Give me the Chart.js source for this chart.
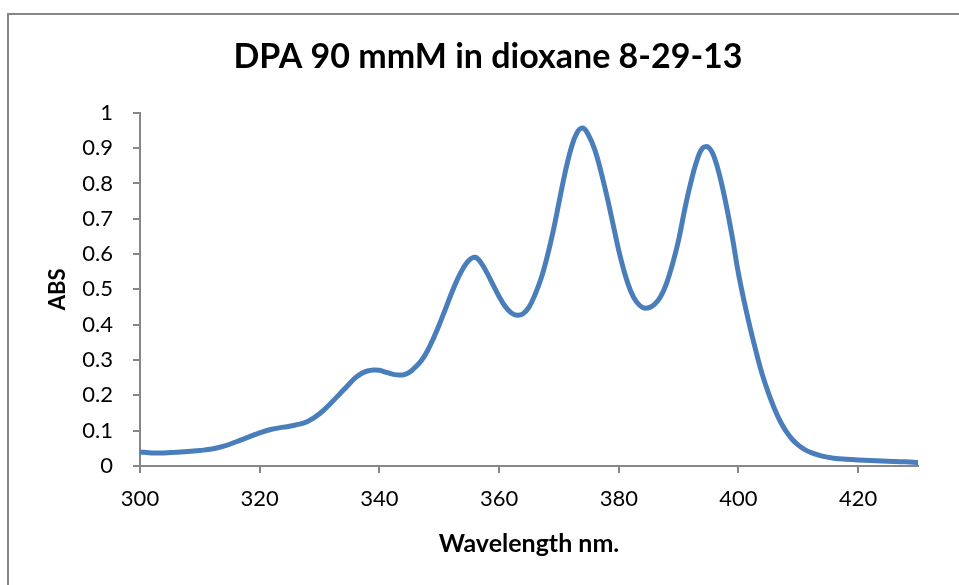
<!DOCTYPE html>
<html>
<head>
<meta charset="utf-8">
<script src="https://cdn.jsdelivr.net/npm/chart.js@4.4.1/dist/chart.umd.min.js"></script>
<style>
  html, body { margin: 0; padding: 0; background: #ffffff; }
  #wrap { position: relative; width: 959px; height: 585px; overflow: hidden; }
  #c { position: absolute; left: 0; top: 0; }
  #frame { position: absolute; left: 7px; top: 13px; width: 960px; height: 600px;
           border-top: 2px solid #868686; border-left: 2px solid #868686; pointer-events: none; }
</style>
</head>
<body>
<div id="wrap">
  <canvas id="c" width="959" height="585"></canvas>
  <div id="frame"></div>
</div>
<script>
// ---- data ----
const chartTitle = "DPA 90 mmM in dioxane 8-29-13";
const xAxisTitle = "Wavelength nm.";
const yAxisTitle = "ABS";
const wavelengths = [300, 302, 304, 306, 308, 310, 312, 314, 316, 318, 320, 322, 324, 326, 328, 330,
  332, 334, 336, 337, 338, 339, 340, 341, 342, 343, 344, 345, 346, 347, 348, 349, 350, 351, 352, 353,
  354, 355, 356, 357, 358, 359, 360, 361, 362, 363, 364, 365, 366, 367, 368, 369, 370, 371, 372, 373,
  374, 375, 376, 377, 378, 379, 380, 381, 382, 383, 384, 385, 386, 387, 388, 389, 390, 391, 392, 393,
  394, 395, 396, 397, 398, 399, 400, 401, 402, 403, 404, 405, 406, 407, 408, 409, 410, 411, 412, 414,
  416, 418, 420, 424, 428, 430];
const absorbance = [0.040, 0.037, 0.037, 0.039, 0.041, 0.044, 0.048, 0.056, 0.068, 0.081, 0.094,
  0.104, 0.110, 0.116, 0.126, 0.148, 0.180, 0.215, 0.250, 0.262, 0.269, 0.272, 0.271, 0.266, 0.261,
  0.258, 0.258, 0.265, 0.280, 0.298, 0.325, 0.360, 0.400, 0.443, 0.487, 0.527, 0.560, 0.583, 0.591,
  0.575, 0.546, 0.513, 0.480, 0.452, 0.434, 0.427, 0.431, 0.450, 0.485, 0.530, 0.590, 0.662, 0.745,
  0.828, 0.897, 0.943, 0.957, 0.935, 0.895, 0.835, 0.765, 0.688, 0.610, 0.545, 0.495, 0.464, 0.449,
  0.448, 0.458, 0.480, 0.518, 0.573, 0.640, 0.725, 0.800, 0.862, 0.900, 0.902, 0.872, 0.812, 0.735,
  0.645, 0.545, 0.462, 0.388, 0.320, 0.258, 0.207, 0.163, 0.126, 0.097, 0.075, 0.059, 0.047, 0.039,
  0.028, 0.022, 0.019, 0.017, 0.014, 0.012, 0.010];
const xMin = 300, xMax = 430, xStep = 20;
const yMin = 0, yMax = 1, yStep = 0.1;

const points = wavelengths.map((w, i) => ({ x: w, y: absorbance[i] }));
const axisGray = '#868686';
const fontFamily = 'Lato, "Open Sans", sans-serif';

// shift the title block so that it is centred where the reference centres it
const titleShift = {
  id: 'titleShift',
  afterLayout(chart) {
    const t = chart.titleBlock;
    if (t) { t.left = 58; t.right = 918; }
  }
};

new Chart(document.getElementById('c'), {
  type: 'line',
  data: {
    datasets: [{
      data: points,
      borderColor: '#4A7EBB',
      borderWidth: 5,
      pointRadius: 0,
      fill: false,
      tension: 0.4,
      borderCapStyle: 'round',
      borderJoinStyle: 'round'
    }]
  },
  plugins: [titleShift],
  options: {
    responsive: false,
    animation: false,
    devicePixelRatio: 1,
    layout: { padding: { left: 8, right: 41, top: 0, bottom: 0 } },
    plugins: {
      legend: { display: false },
      tooltip: { enabled: false },
      title: {
        display: true,
        text: chartTitle,
        color: '#000000',
        font: { family: fontFamily, size: 34, weight: 'bold', lineHeight: 1.2 },
        padding: { top: 37, bottom: 35 }
      }
    },
    scales: {
      x: {
        type: 'linear',
        min: xMin, max: xMax,
        afterFit: (s) => { s.height = 119; },
        ticks: {
          stepSize: xStep,
          includeBounds: false,
          color: '#000000',
          padding: 13,
          maxRotation: 0,
          font: { family: fontFamily, size: 22 }
        },
        grid: { drawOnChartArea: false, drawTicks: true, tickLength: 7, color: axisGray, lineWidth: 2 },
        border: { display: true, color: axisGray, width: 2 },
        title: {
          display: true, text: xAxisTitle, color: '#000000',
          font: { family: fontFamily, size: 25, weight: 'bold', lineHeight: 1.2 },
          padding: { top: 0, bottom: 26 }
        }
      },
      y: {
        type: 'linear',
        min: yMin, max: yMax,
        afterFit: (s) => { s.width = 132; },
        ticks: {
          stepSize: yStep,
          color: '#000000',
          padding: 20,
          font: { family: fontFamily, size: 22 },
          callback: (v) => String(Number(v.toFixed(1)))
        },
        grid: { drawOnChartArea: false, drawTicks: true, tickLength: 7, color: axisGray, lineWidth: 2 },
        border: { display: true, color: axisGray, width: 2 },
        title: {
          display: true, text: yAxisTitle, color: '#000000',
          font: { family: fontFamily, size: 22, weight: 'bold', lineHeight: 1.2 },
          padding: { top: 37, bottom: 0 }
        }
      }
    }
  }
});
</script>
</body>
</html>
